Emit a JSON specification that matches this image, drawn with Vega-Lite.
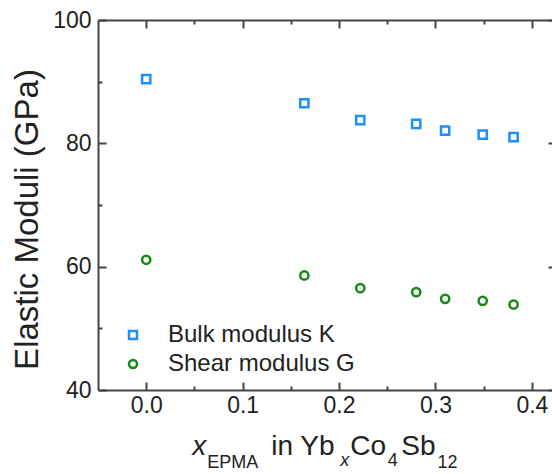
{
  "$schema": "https://vega.github.io/schema/vega-lite/v6.json",
  "autosize": {"type": "none"},
  "padding": {"left": 98, "top": 20, "right": -4, "bottom": 84},
  "width": 458,
  "height": 370,
  "background": "white",
  "config": {
    "view": {"stroke": null},
    "font": "Liberation Sans",
    "text": {"fontWeight": "normal"},
    "axis": {
      "domainColor": "#444",
      "domainWidth": 2,
      "tickColor": "#444",
      "tickWidth": 2,
      "grid": false,
      "labelFont": "Liberation Sans",
      "labelFontSize": 23,
      "labelColor": "#222",
      "titleFont": "Liberation Sans",
      "titleColor": "#222",
      "titleFontWeight": "normal"
    }
  },
  "datasets": {
    "moduli": [
      {"x": 0.0, "modulus": 90.4, "series": "Bulk modulus K"},
      {"x": 0.164, "modulus": 86.5, "series": "Bulk modulus K"},
      {"x": 0.222, "modulus": 83.75, "series": "Bulk modulus K"},
      {"x": 0.280, "modulus": 83.17, "series": "Bulk modulus K"},
      {"x": 0.310, "modulus": 82.08, "series": "Bulk modulus K"},
      {"x": 0.349, "modulus": 81.43, "series": "Bulk modulus K"},
      {"x": 0.381, "modulus": 80.99, "series": "Bulk modulus K"},
      {"x": 0.0, "modulus": 61.12, "series": "Shear modulus G"},
      {"x": 0.164, "modulus": 58.57, "series": "Shear modulus G"},
      {"x": 0.222, "modulus": 56.52, "series": "Shear modulus G"},
      {"x": 0.280, "modulus": 55.87, "series": "Shear modulus G"},
      {"x": 0.310, "modulus": 54.78, "series": "Shear modulus G"},
      {"x": 0.349, "modulus": 54.46, "series": "Shear modulus G"},
      {"x": 0.381, "modulus": 53.86, "series": "Shear modulus G"}
    ],
    "one": [{}]
  },
  "resolve": {"axis": {"x": "independent", "y": "independent"}},
  "layer": [
    {
      "data": {"name": "moduli"},
      "mark": {"type": "point", "filled": false, "strokeWidth": 2.5, "size": 68, "opacity": 1},
      "encoding": {
        "x": {
          "field": "x", "type": "quantitative",
          "scale": {"domain": [-0.05, 0.425], "nice": false, "zero": false},
          "axis": {
            "orient": "bottom",
            "values": [0, 0.05, 0.1, 0.15, 0.2, 0.25, 0.3, 0.35, 0.4],
            "labelExpr": "abs(datum.value*10 - round(datum.value*10)) < 0.001 ? format(datum.value, '.1f') : ''",
            "tickSize": {"condition": {"test": "abs(datum.value*10 - round(datum.value*10)) < 0.001", "value": -8}, "value": -4},
            "labelPadding": 12,
            "title": null
          }
        },
        "y": {
          "field": "modulus", "type": "quantitative",
          "scale": {"domain": [40, 100], "nice": false, "zero": false},
          "axis": {
            "orient": "left",
            "values": [40, 50, 60, 70, 80, 90, 100],
            "labelExpr": "datum.value % 20 == 0 ? datum.label : ''",
            "tickSize": {"condition": {"test": "datum.value % 20 == 0", "value": -8}, "value": -4},
            "labelPadding": 15,
            "title": "Elastic Moduli (GPa)",
            "titleFontSize": 33,
            "titleAngle": -90,
            "titleX": -61,
            "titleY": 199,
            "titleAlign": "center",
            "titleBaseline": "alphabetic"
          }
        },
        "color": {
          "field": "series", "type": "nominal",
          "scale": {"domain": ["Bulk modulus K", "Shear modulus G"], "range": ["#1e8fff", "#138a13"]},
          "legend": {
            "orient": "none", "legendX": 23, "legendY": 303, "title": null,
            "labelFont": "Liberation Sans", "labelFontSize": 24, "labelColor": "#222", "labelLimit": 400,
            "symbolStrokeWidth": 2.5, "symbolSize": 64, "labelOffset": 23, "rowPadding": 5, "padding": 0
          }
        },
        "shape": {
          "field": "series", "type": "nominal",
          "scale": {"domain": ["Bulk modulus K", "Shear modulus G"], "range": ["square", "circle"]},
          "legend": {
            "orient": "none", "legendX": 23, "legendY": 303, "title": null,
            "labelFont": "Liberation Sans", "labelFontSize": 24, "labelColor": "#222", "labelLimit": 400,
            "symbolStrokeWidth": 2.5, "symbolSize": 64, "labelOffset": 23, "rowPadding": 5, "padding": 0
          }
        }
      }
    },
    {
      "data": {"name": "moduli"},
      "mark": {"type": "point", "opacity": 0},
      "encoding": {
        "x": {
          "field": "x", "type": "quantitative",
          "scale": {"domain": [-0.05, 0.425], "nice": false, "zero": false},
          "axis": {
            "orient": "top",
            "values": [0, 0.05, 0.1, 0.15, 0.2, 0.25, 0.3, 0.35, 0.4],
            "labels": false,
            "tickSize": {"condition": {"test": "abs(datum.value*10 - round(datum.value*10)) < 0.001", "value": -8}, "value": -4},
            "title": null
          }
        },
        "y": {
          "field": "modulus", "type": "quantitative",
          "scale": {"domain": [40, 100], "nice": false, "zero": false},
          "axis": {
            "orient": "right",
            "values": [40, 50, 60, 70, 80, 90, 100],
            "labels": false,
            "tickSize": {"condition": {"test": "datum.value % 20 == 0", "value": -8}, "value": -4},
            "title": null
          }
        }
      }
    },
    {
      "data": {"name": "one"},
      "mark": {"type": "text", "text": "x", "font": "Liberation Sans", "fontSize": 28, "fontStyle": "italic", "fontWeight": "normal", "align": "left", "baseline": "alphabetic", "color": "#222", "clip": false},
      "encoding": {
        "x": {"datum": 0.0477, "type": "quantitative", "axis": null},
        "y": {"datum": 29.44, "type": "quantitative", "axis": null}
      }
    },
    {
      "data": {"name": "one"},
      "mark": {"type": "text", "text": "EPMA", "font": "Liberation Sans", "fontSize": 18, "fontWeight": "normal", "align": "left", "baseline": "alphabetic", "color": "#222"},
      "encoding": {
        "x": {"datum": 0.0633, "type": "quantitative", "axis": null},
        "y": {"datum": 27.4, "type": "quantitative", "axis": null}
      }
    },
    {
      "data": {"name": "one"},
      "mark": {"type": "text", "text": "in Yb", "font": "Liberation Sans", "fontSize": 28, "fontWeight": "normal", "align": "left", "baseline": "alphabetic", "color": "#222"},
      "encoding": {
        "x": {"datum": 0.1297, "type": "quantitative", "axis": null},
        "y": {"datum": 29.44, "type": "quantitative", "axis": null}
      }
    },
    {
      "data": {"name": "one"},
      "mark": {"type": "text", "text": "x", "font": "Liberation Sans", "fontSize": 18, "fontStyle": "italic", "fontWeight": "normal", "align": "left", "baseline": "alphabetic", "color": "#222"},
      "encoding": {
        "x": {"datum": 0.2012, "type": "quantitative", "axis": null},
        "y": {"datum": 27.65, "type": "quantitative", "axis": null}
      }
    },
    {
      "data": {"name": "one"},
      "mark": {"type": "text", "text": "Co", "font": "Liberation Sans", "fontSize": 28, "fontWeight": "normal", "align": "left", "baseline": "alphabetic", "color": "#222"},
      "encoding": {
        "x": {"datum": 0.2116, "type": "quantitative", "axis": null},
        "y": {"datum": 29.44, "type": "quantitative", "axis": null}
      }
    },
    {
      "data": {"name": "one"},
      "mark": {"type": "text", "text": "4", "font": "Liberation Sans", "fontSize": 18, "fontWeight": "normal", "align": "left", "baseline": "alphabetic", "color": "#222"},
      "encoding": {
        "x": {"datum": 0.2505, "type": "quantitative", "axis": null},
        "y": {"datum": 27.65, "type": "quantitative", "axis": null}
      }
    },
    {
      "data": {"name": "one"},
      "mark": {"type": "text", "text": "Sb", "font": "Liberation Sans", "fontSize": 28, "fontWeight": "normal", "align": "left", "baseline": "alphabetic", "color": "#222"},
      "encoding": {
        "x": {"datum": 0.2646, "type": "quantitative", "axis": null},
        "y": {"datum": 29.44, "type": "quantitative", "axis": null}
      }
    },
    {
      "data": {"name": "one"},
      "mark": {"type": "text", "text": "12", "font": "Liberation Sans", "fontSize": 18, "fontWeight": "normal", "align": "left", "baseline": "alphabetic", "color": "#222"},
      "encoding": {
        "x": {"datum": 0.302, "type": "quantitative", "axis": null},
        "y": {"datum": 27.3, "type": "quantitative", "axis": null}
      }
    }
  ]
}
